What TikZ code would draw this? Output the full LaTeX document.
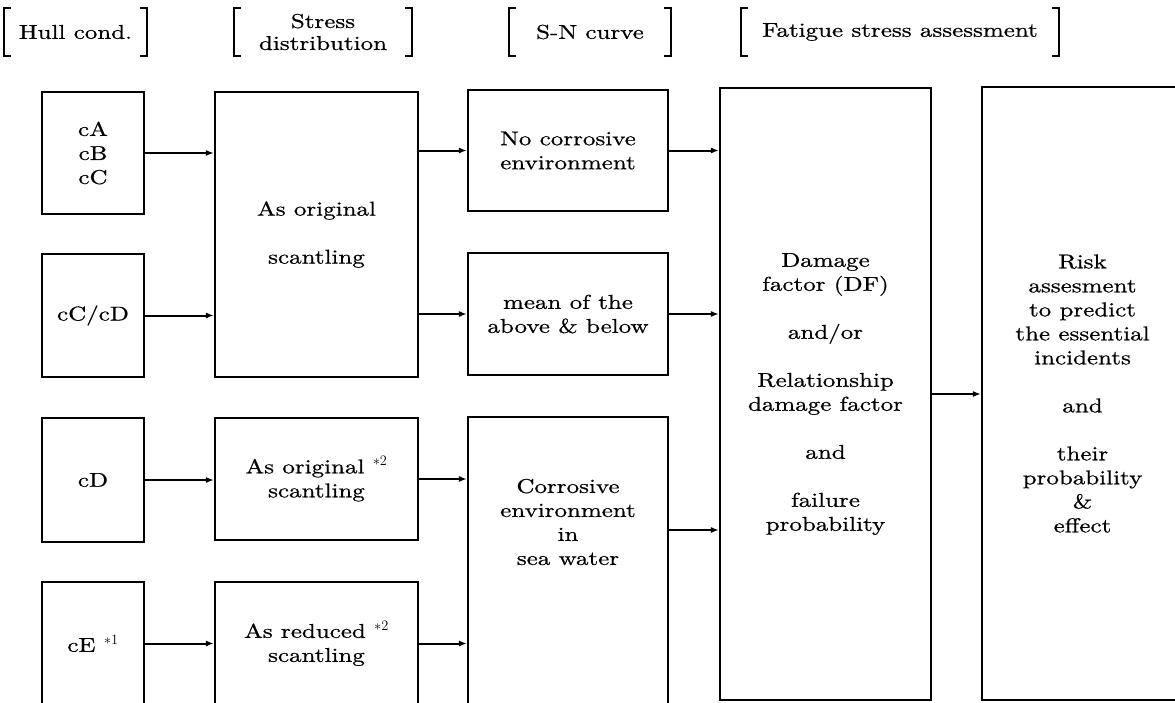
\documentclass[tikz,border=0pt]{standalone}
\usepackage{fontspec}
\setmainfont{lmroman10-regular}[Extension=.otf, FakeStretch=1.25, FakeBold=0.7]
\usetikzlibrary{arrows.meta}
\newcommand\dfont{\fontsize{20}{24}\selectfont}
\newcommand\hdfont{\fontsize{20}{22}\selectfont}
\begin{document}
\begin{tikzpicture}[x=1pt,y=-1pt,
  box/.style={draw, line width=2.1pt, inner sep=0pt, align=center, font=\dfont},
  txt/.style={inner sep=0pt, align=center, font=\dfont},
  hdr/.style={inner sep=0pt, align=center, font=\hdfont, minimum height=48pt},
  brk/.style={line width=1.7pt},
  arr/.style={line width=2pt, -{Latex[length=8pt,width=6pt]}}]
\useasboundingbox (0,0) rectangle (1175,702);
\clip (0,0) rectangle (1175,702);
% headers
\node[hdr, minimum width=143pt] (h1) at (75.5,32) {Hull cond.};
\node[hdr, minimum width=178pt] (h2) at (323,32) {Stress\\distribution};
\node[hdr, minimum width=161pt] (h3) at (590,32) {S-N curve};
\node[hdr, minimum width=318pt] (h4) at (900,32) {Fatigue stress assessment};
\foreach \h in {h1,h2,h3,h4}{
  \draw[brk] ([xshift=7pt]\h.north west) -| (\h.south west) -- ([xshift=7pt]\h.south west);
  \draw[brk] ([xshift=-7pt]\h.north east) -| (\h.south east) -- ([xshift=-7pt]\h.south east);
}
% column 1
\node[box, minimum width=102pt, minimum height=122pt] (c1a) at (93,153) {cA\\cB\\cC};
\node[box, minimum width=102pt, minimum height=123pt] (c1b) at (93,315.5) {cC/cD};
\node[box, minimum width=102pt, minimum height=124pt] (c1c) at (93,480) {cD};
\node[box, minimum width=102pt, minimum height=123pt] (c1d) at (93,643.5) {cE $^{*1}$};
% column 2
\node[box, minimum width=203pt, minimum height=285pt] (c2a) at (316.5,234.5) {As original\\[24pt]scantling};
\node[box, minimum width=203pt, minimum height=122pt] (c2b) at (316.5,479) {As original $^{*2}$\\scantling};
\node[box, minimum width=203pt, minimum height=123pt] (c2c) at (316.5,643.5) {As reduced $^{*2}$\\scantling};
% column 3
\node[box, minimum width=200pt, minimum height=121pt] (c3a) at (568,150.5) {No corrosive\\environment};
\node[box, minimum width=200pt, minimum height=122pt] (c3b) at (568,314) {mean of the\\above \& below};
\node[box, minimum width=200pt, minimum height=290pt] (c3c) at (568,562) {};
\node[txt] (c3t) at (568,522) {Corrosive\\environment\\in\\sea water};
% column 4
\node[box, minimum width=211pt, minimum height=612pt] (c4) at (825.5,394) {Damage\\factor (DF)\\[24pt]and/or\\[24pt]Relationship\\damage factor\\[24pt]and\\[24pt]failure\\probability};
% column 5
\node[box, minimum width=201pt, minimum height=613pt] (c5) at (1082.5,393.5) {Risk\\assesment\\to predict\\the essential\\incidents\\[24pt]and\\[24pt]their\\probability\\\&\\effect};
% connectors
\draw[arr] (c1a.east) -- (c1a.east -| c2a.west);
\draw[arr] (c1b.east) -- (c1b.east -| c2a.west);
\draw[arr] (c1c.east) -- (c1c.east -| c2b.west);
\draw[arr] (c1d.east) -- (c1d.east -| c2c.west);
\draw[arr] (c3a.west -| c2a.east) -- (c3a.west);
\draw[arr] (c3b.west -| c2a.east) -- (c3b.west);
\draw[arr] (c2b.east) -- (c2b.east -| c3c.west);
\draw[arr] (c2c.east) -- (c2c.east -| c3c.west);
\draw[arr] (c3a.east) -- (c3a.east -| c4.west);
\draw[arr] (c3b.east) -- (c3b.east -| c4.west);
\path ([yshift=-8pt]c3t.east -| c3c.east) coordinate (c3out);
\draw[arr] (c3out) -- (c3out -| c4.west);
\draw[arr] (c4.east) -- (c4.east -| c5.west);
\end{tikzpicture}
\end{document}
